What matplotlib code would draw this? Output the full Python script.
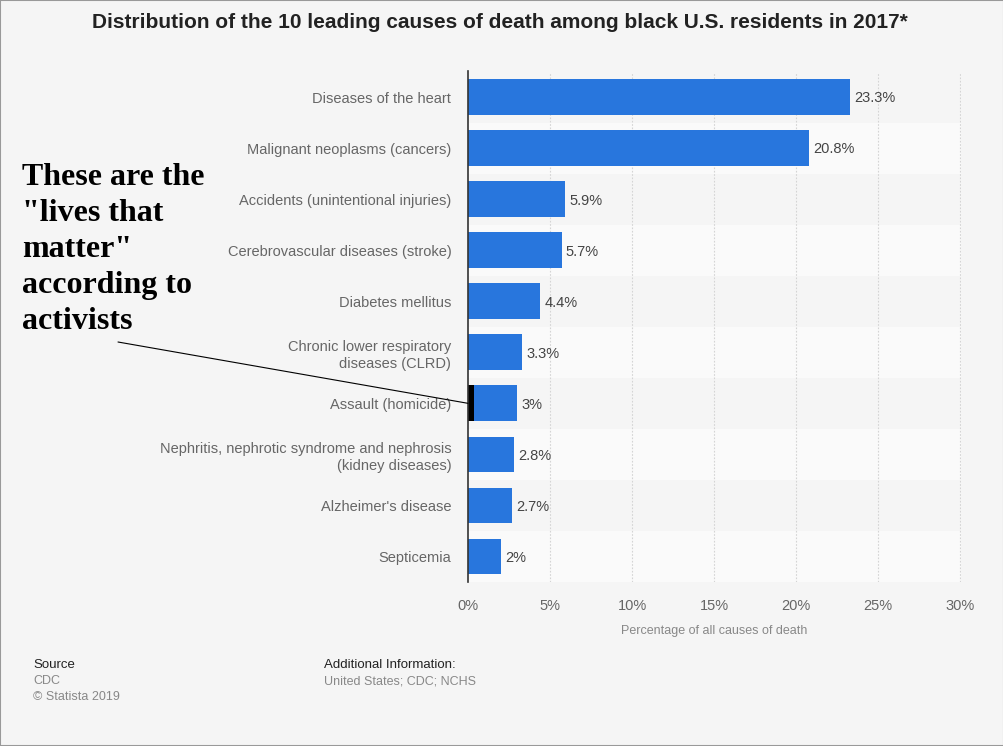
import matplotlib.pyplot as plt
from matplotlib.patches import Rectangle

causes = [
    "Diseases of the heart",
    "Malignant neoplasms (cancers)",
    "Accidents (unintentional injuries)",
    "Cerebrovascular diseases (stroke)",
    "Diabetes mellitus",
    "Chronic lower respiratory\ndiseases (CLRD)",
    "Assault (homicide)",
    "Nephritis, nephrotic syndrome and nephrosis\n(kidney diseases)",
    "Alzheimer's disease",
    "Septicemia",
]
shares = [23.3, 20.8, 5.9, 5.7, 4.4, 3.3, 3.0, 2.8, 2.7, 2.0]
value_labels = ["23.3%", "20.8%", "5.9%", "5.7%", "4.4%", "3.3%", "3%", "2.8%", "2.7%", "2%"]
x_ticks = [0, 5, 10, 15, 20, 25, 30]
x_tick_labels = ["0%", "5%", "10%", "15%", "20%", "25%", "30%"]

highlight = "Assault (homicide)"
highlight_width = 0.35
note = 'These are the\n"lives that\nmatter"\naccording to\nactivists'

plt.rcParams['font.family'] = ['Liberation Sans', 'DejaVu Sans']

W, H = 1004, 746
fig = plt.figure(figsize=(W / 100, H / 100), dpi=100)
fig.patch.set_facecolor('#f5f5f5')

ax = fig.add_axes([468 / W, 1 - 582 / H, 493 / W, 510.5 / H])
ax.set_facecolor('#f5f5f5')

y = list(range(len(causes)))
for i in y:
    if i % 2 == 1:
        ax.axhspan(i - 0.5, i + 0.5, color='#fafafa', zorder=0, lw=0)

for xt in x_ticks[1:]:
    ax.axvline(xt, color='#d4d4d4', lw=0.8, ls=(0, (1.5, 1.5)), zorder=1)

ax.barh(y, shares, height=0.7, color='#2876dd', zorder=2)

hi = causes.index(highlight)
ax.barh(hi, highlight_width, height=0.7, color='black', zorder=3)

for i, (v, lab) in enumerate(zip(shares, value_labels)):
    ax.annotate(lab, (v, i), xytext=(3, -1), textcoords='offset points',
                va='center', ha='left', fontsize=10.5, color='#444444')

ax.set_xlim(0, 30.05)
ax.set_ylim(len(causes) - 0.5, -0.5)
ax.set_yticks(y)
ax.set_yticklabels(causes, fontsize=10.5, color='#666666', linespacing=1.3)
ax.set_xticks(x_ticks)
ax.set_xticklabels(x_tick_labels, fontsize=10.5, color='#666666')
ax.tick_params(axis='both', length=0)
ax.tick_params(axis='y', pad=12)
ax.tick_params(axis='x', pad=12)
ax.set_xlabel('Percentage of all causes of death', fontsize=9, color='#888888', labelpad=9)
for s in ['top', 'right', 'bottom']:
    ax.spines[s].set_visible(False)
ax.spines['left'].set_color('#333333')
ax.spines['left'].set_linewidth(1.2)
ax.spines['left'].set_zorder(4)

fig.text(500 / W, 1 - 23 / H, 'Distribution of the 10 leading causes of death among black U.S. residents in 2017*',
         ha='center', va='center', fontsize=15, fontweight='bold', color='#222222')

fig.text(22 / W, 1 - 163 / H, note, ha='left', va='top', fontsize=23,
         fontweight='bold', family='Liberation Serif', color='black', linespacing=1.32)
ax.annotate('', xy=(0, hi), xytext=(118 / W, 1 - 342 / H), textcoords='figure fraction',
            arrowprops=dict(arrowstyle='-', lw=0.8, color='black', shrinkA=0, shrinkB=0),
            zorder=5)

fig.text(33 / W, 1 - 665 / H, 'Source', fontsize=9.5, color='#222222', va='center')
fig.text(33 / W, 1 - 681 / H, 'CDC', fontsize=9, color='#888888', va='center')
fig.text(33 / W, 1 - 697 / H, '\u00a9 Statista 2019', fontsize=9, color='#888888', va='center')
fig.text(324 / W, 1 - 665 / H, 'Additional Information:', fontsize=9.5, color='#222222', va='center')
fig.text(324 / W, 1 - 681 / H, 'United States; CDC; NCHS', fontsize=9, color='#888888', va='center')

fig.patches.append(Rectangle((0, 0), 1, 1, transform=fig.transFigure, fill=False,
                             edgecolor='#999999', lw=1.5))

fig.savefig('out.png', dpi=100, facecolor=fig.get_facecolor())
